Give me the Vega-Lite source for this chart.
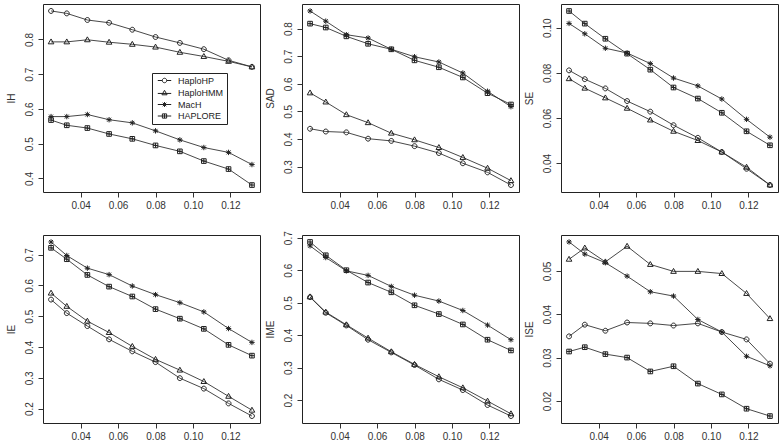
{
  "$schema": "https://vega.github.io/schema/vega-lite/v6.json",
  "padding": {"left": 5, "top": 3, "right": 0, "bottom": 0},
  "bounds": "flush",
  "columns": 3,
  "spacing": {"row": 43, "column": 42},
  "resolve": {"scale": {"shape": "independent"}, "legend": {"shape": "independent"}},
  "config": {
    "font": "Liberation Sans",
    "view": {"stroke": "#222", "strokeWidth": 1},
    "axis": {"grid": false, "domain": false, "ticks": true, "tickColor": "#333", "tickSize": 5, "tickCount": 12, "labelFont": "Liberation Sans", "labelFontSize": 10, "labelColor": "#333", "labelFlush": false, "labelOverlap": false, "titleFont": "Liberation Sans", "titleFontSize": 10, "titleFontWeight": "normal", "titleColor": "#333"},
    "axisY": {"labelAngle": 270, "labelAlign": "center", "labelBaseline": "bottom", "labelPadding": 4, "titlePadding": 8},
    "axisX": {"labelPadding": 3, "title": null}
  },
  "datasets": {
    "d": [
      {"x": 0.0242, "s": "HaploHP", "IH": 0.882, "SAD": 0.437, "SE": 0.0811, "IE": 0.554, "IME": 0.517, "ISE": 0.0349},
      {"x": 0.0326, "s": "HaploHP", "IH": 0.875, "SAD": 0.427, "SE": 0.0772, "IE": 0.510, "IME": 0.469, "ISE": 0.0376},
      {"x": 0.0436, "s": "HaploHP", "IH": 0.856, "SAD": 0.424, "SE": 0.0731, "IE": 0.468, "IME": 0.430, "ISE": 0.0362},
      {"x": 0.0552, "s": "HaploHP", "IH": 0.848, "SAD": 0.401, "SE": 0.0675, "IE": 0.425, "IME": 0.386, "ISE": 0.0381},
      {"x": 0.0676, "s": "HaploHP", "IH": 0.828, "SAD": 0.393, "SE": 0.0628, "IE": 0.386, "IME": 0.347, "ISE": 0.0379},
      {"x": 0.0800, "s": "HaploHP", "IH": 0.807, "SAD": 0.374, "SE": 0.0568, "IE": 0.351, "IME": 0.308, "ISE": 0.0374},
      {"x": 0.0930, "s": "HaploHP", "IH": 0.790, "SAD": 0.349, "SE": 0.0512, "IE": 0.299, "IME": 0.264, "ISE": 0.0379},
      {"x": 0.1058, "s": "HaploHP", "IH": 0.772, "SAD": 0.312, "SE": 0.0449, "IE": 0.265, "IME": 0.231, "ISE": 0.0359},
      {"x": 0.1190, "s": "HaploHP", "IH": 0.740, "SAD": 0.279, "SE": 0.0375, "IE": 0.217, "IME": 0.185, "ISE": 0.0342},
      {"x": 0.1315, "s": "HaploHP", "IH": 0.721, "SAD": 0.233, "SE": 0.0303, "IE": 0.176, "IME": 0.151, "ISE": 0.0286},
      {"x": 0.0242, "s": "HaploHMM", "IH": 0.793, "SAD": 0.567, "SE": 0.0774, "IE": 0.575, "IME": 0.518, "ISE": 0.0527},
      {"x": 0.0326, "s": "HaploHMM", "IH": 0.793, "SAD": 0.534, "SE": 0.0732, "IE": 0.532, "IME": 0.471, "ISE": 0.0553},
      {"x": 0.0436, "s": "HaploHMM", "IH": 0.799, "SAD": 0.488, "SE": 0.0689, "IE": 0.484, "IME": 0.432, "ISE": 0.0521},
      {"x": 0.0552, "s": "HaploHMM", "IH": 0.792, "SAD": 0.459, "SE": 0.0643, "IE": 0.447, "IME": 0.391, "ISE": 0.0557},
      {"x": 0.0676, "s": "HaploHMM", "IH": 0.786, "SAD": 0.421, "SE": 0.0591, "IE": 0.402, "IME": 0.349, "ISE": 0.0515},
      {"x": 0.0800, "s": "HaploHMM", "IH": 0.778, "SAD": 0.397, "SE": 0.0541, "IE": 0.360, "IME": 0.310, "ISE": 0.0499},
      {"x": 0.0930, "s": "HaploHMM", "IH": 0.763, "SAD": 0.369, "SE": 0.0500, "IE": 0.325, "IME": 0.272, "ISE": 0.0499},
      {"x": 0.1058, "s": "HaploHMM", "IH": 0.751, "SAD": 0.333, "SE": 0.0449, "IE": 0.288, "IME": 0.238, "ISE": 0.0494},
      {"x": 0.1190, "s": "HaploHMM", "IH": 0.737, "SAD": 0.294, "SE": 0.0382, "IE": 0.240, "IME": 0.197, "ISE": 0.0448},
      {"x": 0.1315, "s": "HaploHMM", "IH": 0.721, "SAD": 0.249, "SE": 0.0303, "IE": 0.195, "IME": 0.158, "ISE": 0.0390},
      {"x": 0.0242, "s": "MacH", "IH": 0.578, "SAD": 0.864, "SE": 0.1019, "IE": 0.741, "IME": 0.675, "ISE": 0.0567},
      {"x": 0.0326, "s": "MacH", "IH": 0.578, "SAD": 0.827, "SE": 0.0973, "IE": 0.697, "IME": 0.639, "ISE": 0.0539},
      {"x": 0.0436, "s": "MacH", "IH": 0.584, "SAD": 0.778, "SE": 0.0909, "IE": 0.656, "IME": 0.598, "ISE": 0.0519},
      {"x": 0.0552, "s": "MacH", "IH": 0.569, "SAD": 0.766, "SE": 0.0888, "IE": 0.635, "IME": 0.584, "ISE": 0.0488},
      {"x": 0.0676, "s": "MacH", "IH": 0.560, "SAD": 0.725, "SE": 0.0841, "IE": 0.598, "IME": 0.550, "ISE": 0.0452},
      {"x": 0.0800, "s": "MacH", "IH": 0.537, "SAD": 0.698, "SE": 0.0777, "IE": 0.570, "IME": 0.523, "ISE": 0.0442},
      {"x": 0.0930, "s": "MacH", "IH": 0.511, "SAD": 0.679, "SE": 0.0742, "IE": 0.544, "IME": 0.505, "ISE": 0.0388},
      {"x": 0.1058, "s": "MacH", "IH": 0.489, "SAD": 0.639, "SE": 0.0684, "IE": 0.514, "IME": 0.476, "ISE": 0.0359},
      {"x": 0.1190, "s": "MacH", "IH": 0.475, "SAD": 0.573, "SE": 0.0594, "IE": 0.460, "IME": 0.431, "ISE": 0.0303},
      {"x": 0.1315, "s": "MacH", "IH": 0.440, "SAD": 0.517, "SE": 0.0515, "IE": 0.415, "IME": 0.386, "ISE": 0.0281},
      {"x": 0.0242, "s": "HAPLORE", "IH": 0.568, "SAD": 0.818, "SE": 0.1074, "IE": 0.722, "IME": 0.687, "ISE": 0.0314},
      {"x": 0.0326, "s": "HAPLORE", "IH": 0.553, "SAD": 0.804, "SE": 0.1018, "IE": 0.685, "IME": 0.646, "ISE": 0.0324},
      {"x": 0.0436, "s": "HAPLORE", "IH": 0.545, "SAD": 0.772, "SE": 0.0951, "IE": 0.634, "IME": 0.600, "ISE": 0.0308},
      {"x": 0.0552, "s": "HAPLORE", "IH": 0.528, "SAD": 0.745, "SE": 0.0885, "IE": 0.596, "IME": 0.562, "ISE": 0.0300},
      {"x": 0.0676, "s": "HAPLORE", "IH": 0.514, "SAD": 0.725, "SE": 0.0814, "IE": 0.564, "IME": 0.532, "ISE": 0.0268},
      {"x": 0.0800, "s": "HAPLORE", "IH": 0.495, "SAD": 0.685, "SE": 0.0735, "IE": 0.523, "IME": 0.492, "ISE": 0.0280},
      {"x": 0.0930, "s": "HAPLORE", "IH": 0.478, "SAD": 0.660, "SE": 0.0686, "IE": 0.492, "IME": 0.465, "ISE": 0.0240},
      {"x": 0.1058, "s": "HAPLORE", "IH": 0.450, "SAD": 0.623, "SE": 0.0623, "IE": 0.459, "IME": 0.433, "ISE": 0.0215},
      {"x": 0.1190, "s": "HAPLORE", "IH": 0.427, "SAD": 0.566, "SE": 0.0541, "IE": 0.407, "IME": 0.386, "ISE": 0.0182},
      {"x": 0.1315, "s": "HAPLORE", "IH": 0.381, "SAD": 0.525, "SE": 0.0479, "IE": 0.372, "IME": 0.353, "ISE": 0.0165}
    ]
  },
  "concat": [
    {
      "width": 217, "height": 188,
      "data": {"name": "d"},
      "resolve": {"scale": {"shape": "independent"}, "legend": {"shape": "independent"}},
      "layer": [
        {"mark": {"type": "line", "color": "#333", "strokeWidth": 0.9},
         "encoding": {"x": {"field": "x", "type": "quantitative", "scale": {"domain": [0.0199, 0.1358], "nice": false, "zero": false}, "axis": {"values": [0.04, 0.06, 0.08, 0.10, 0.12], "format": ".2f", "tickCount": 12}},
                      "y": {"field": "IH", "type": "quantitative", "title": "IH", "scale": {"domain": [0.361, 0.902], "nice": false, "zero": false}, "axis": {"values": [0.4, 0.5, 0.6, 0.7, 0.8], "format": ".1f", "tickCount": 12}},
                      "detail": {"field": "s"}}},
        {"mark": {"type": "point", "filled": false, "stroke": "#222", "strokeWidth": 1, "size": 24, "opacity": 1},
         "encoding": {"x": {"field": "x", "type": "quantitative"},
                      "y": {"field": "IH", "type": "quantitative"},
                      "shape": {"field": "s", "type": "nominal", "legend": null,
                                "scale": {"domain": ["HaploHP", "HaploHMM", "MacH", "HAPLORE"], "range": ["M1,0A1,1,0,1,1,-1,0A1,1,0,1,1,1,0Z", "M0,-1.2L1.15,0.8L-1.15,0.8Z", "M-1.1,0L1.1,0M0,-1.1L0,1.1M-0.8,-0.8L0.8,0.8M-0.8,0.8L0.8,-0.8", "M-0.95,-0.95L0.95,-0.95L0.95,0.95L-0.95,0.95ZM-0.95,0L0.95,0M0,-0.95L0,0.95"]}}}},
        {"mark": {"type": "point", "filled": false, "stroke": "#222", "strokeWidth": 1, "size": 20, "opacity": 0},
         "encoding": {"x": {"field": "x", "type": "quantitative"},
                      "y": {"field": "IH", "type": "quantitative"},
                      "shape": {"field": "s", "type": "nominal",
                                "scale": {"domain": ["HaploHP", "HaploHMM", "MacH", "HAPLORE"], "range": ["M-3,0L-1,0M1,0L3,0M1,0A1,1,0,1,1,-1,0A1,1,0,1,1,1,0Z", "M-3,0.2L3,0.2M0,-1.2L1.15,0.8L-1.15,0.8Z", "M-3,0L3,0M0,-1.1L0,1.1M-0.8,-0.8L0.8,0.8M-0.8,0.8L0.8,-0.8", "M-3,0L3,0M-0.95,-0.95L0.95,-0.95L0.95,0.95L-0.95,0.95ZM0,-0.95L0,0.95"]},
                                "legend": {"orient": "none", "legendX": 109, "legendY": 69, "title": null, "strokeColor": "#222", "fillColor": "white", "padding": 3, "labelFont": "Liberation Sans", "labelFontSize": 9, "labelColor": "#222", "symbolSize": 20, "symbolOpacity": 1, "symbolStrokeColor": "#222", "symbolFillColor": "transparent", "symbolStrokeWidth": 1, "rowPadding": 1.5, "symbolOffset": 5, "labelOffset": 9}}}}
      ]
    },
    {
      "width": 217, "height": 188,
      "data": {"name": "d"},
      "layer": [
        {"mark": {"type": "line", "color": "#333", "strokeWidth": 0.9},
         "encoding": {"x": {"field": "x", "type": "quantitative", "scale": {"domain": [0.0199, 0.1358], "nice": false, "zero": false}, "axis": {"values": [0.04, 0.06, 0.08, 0.10, 0.12], "format": ".2f", "tickCount": 12}},
                      "y": {"field": "SAD", "type": "quantitative", "title": "SAD", "scale": {"domain": [0.2078, 0.8892], "nice": false, "zero": false}, "axis": {"values": [0.3, 0.4, 0.5, 0.6, 0.7, 0.8], "format": ".1f", "tickCount": 12}},
                      "detail": {"field": "s"}}},
        {"mark": {"type": "point", "filled": false, "stroke": "#222", "strokeWidth": 1, "size": 24, "opacity": 1},
         "encoding": {"x": {"field": "x", "type": "quantitative"},
                      "y": {"field": "SAD", "type": "quantitative"},
                      "shape": {"field": "s", "type": "nominal", "legend": null,
                                "scale": {"domain": ["HaploHP", "HaploHMM", "MacH", "HAPLORE"], "range": ["M1,0A1,1,0,1,1,-1,0A1,1,0,1,1,1,0Z", "M0,-1.2L1.15,0.8L-1.15,0.8Z", "M-1.1,0L1.1,0M0,-1.1L0,1.1M-0.8,-0.8L0.8,0.8M-0.8,0.8L0.8,-0.8", "M-0.95,-0.95L0.95,-0.95L0.95,0.95L-0.95,0.95ZM-0.95,0L0.95,0M0,-0.95L0,0.95"]}}}}
      ]
    },
    {
      "width": 217, "height": 188,
      "data": {"name": "d"},
      "layer": [
        {"mark": {"type": "line", "color": "#333", "strokeWidth": 0.9},
         "encoding": {"x": {"field": "x", "type": "quantitative", "scale": {"domain": [0.0199, 0.1358], "nice": false, "zero": false}, "axis": {"values": [0.04, 0.06, 0.08, 0.10, 0.12], "format": ".2f", "tickCount": 12}},
                      "y": {"field": "SE", "type": "quantitative", "title": "SE", "scale": {"domain": [0.0272, 0.1105], "nice": false, "zero": false}, "axis": {"values": [0.04, 0.06, 0.08, 0.10], "format": ".2f", "tickCount": 12}},
                      "detail": {"field": "s"}}},
        {"mark": {"type": "point", "filled": false, "stroke": "#222", "strokeWidth": 1, "size": 24, "opacity": 1},
         "encoding": {"x": {"field": "x", "type": "quantitative"},
                      "y": {"field": "SE", "type": "quantitative"},
                      "shape": {"field": "s", "type": "nominal", "legend": null,
                                "scale": {"domain": ["HaploHP", "HaploHMM", "MacH", "HAPLORE"], "range": ["M1,0A1,1,0,1,1,-1,0A1,1,0,1,1,1,0Z", "M0,-1.2L1.15,0.8L-1.15,0.8Z", "M-1.1,0L1.1,0M0,-1.1L0,1.1M-0.8,-0.8L0.8,0.8M-0.8,0.8L0.8,-0.8", "M-0.95,-0.95L0.95,-0.95L0.95,0.95L-0.95,0.95ZM-0.95,0L0.95,0M0,-0.95L0,0.95"]}}}}
      ]
    },
    {
      "width": 217, "height": 188,
      "data": {"name": "d"},
      "layer": [
        {"mark": {"type": "line", "color": "#333", "strokeWidth": 0.9},
         "encoding": {"x": {"field": "x", "type": "quantitative", "scale": {"domain": [0.0199, 0.1358], "nice": false, "zero": false}, "axis": {"values": [0.04, 0.06, 0.08, 0.10, 0.12], "format": ".2f", "tickCount": 12}},
                      "y": {"field": "IE", "type": "quantitative", "title": "IE", "scale": {"domain": [0.1534, 0.7636], "nice": false, "zero": false}, "axis": {"values": [0.2, 0.3, 0.4, 0.5, 0.6, 0.7], "format": ".1f", "tickCount": 12}},
                      "detail": {"field": "s"}}},
        {"mark": {"type": "point", "filled": false, "stroke": "#222", "strokeWidth": 1, "size": 24, "opacity": 1},
         "encoding": {"x": {"field": "x", "type": "quantitative"},
                      "y": {"field": "IE", "type": "quantitative"},
                      "shape": {"field": "s", "type": "nominal", "legend": null,
                                "scale": {"domain": ["HaploHP", "HaploHMM", "MacH", "HAPLORE"], "range": ["M1,0A1,1,0,1,1,-1,0A1,1,0,1,1,1,0Z", "M0,-1.2L1.15,0.8L-1.15,0.8Z", "M-1.1,0L1.1,0M0,-1.1L0,1.1M-0.8,-0.8L0.8,0.8M-0.8,0.8L0.8,-0.8", "M-0.95,-0.95L0.95,-0.95L0.95,0.95L-0.95,0.95ZM-0.95,0L0.95,0M0,-0.95L0,0.95"]}}}}
      ]
    },
    {
      "width": 217, "height": 188,
      "data": {"name": "d"},
      "layer": [
        {"mark": {"type": "line", "color": "#333", "strokeWidth": 0.9},
         "encoding": {"x": {"field": "x", "type": "quantitative", "scale": {"domain": [0.0199, 0.1358], "nice": false, "zero": false}, "axis": {"values": [0.04, 0.06, 0.08, 0.10, 0.12], "format": ".2f", "tickCount": 12}},
                      "y": {"field": "IME", "type": "quantitative", "title": "IME", "scale": {"domain": [0.1296, 0.7084], "nice": false, "zero": false}, "axis": {"values": [0.2, 0.3, 0.4, 0.5, 0.6, 0.7], "format": ".1f", "tickCount": 12}},
                      "detail": {"field": "s"}}},
        {"mark": {"type": "point", "filled": false, "stroke": "#222", "strokeWidth": 1, "size": 24, "opacity": 1},
         "encoding": {"x": {"field": "x", "type": "quantitative"},
                      "y": {"field": "IME", "type": "quantitative"},
                      "shape": {"field": "s", "type": "nominal", "legend": null,
                                "scale": {"domain": ["HaploHP", "HaploHMM", "MacH", "HAPLORE"], "range": ["M1,0A1,1,0,1,1,-1,0A1,1,0,1,1,1,0Z", "M0,-1.2L1.15,0.8L-1.15,0.8Z", "M-1.1,0L1.1,0M0,-1.1L0,1.1M-0.8,-0.8L0.8,0.8M-0.8,0.8L0.8,-0.8", "M-0.95,-0.95L0.95,-0.95L0.95,0.95L-0.95,0.95ZM-0.95,0L0.95,0M0,-0.95L0,0.95"]}}}}
      ]
    },
    {
      "width": 217, "height": 188,
      "data": {"name": "d"},
      "layer": [
        {"mark": {"type": "line", "color": "#333", "strokeWidth": 0.9},
         "encoding": {"x": {"field": "x", "type": "quantitative", "scale": {"domain": [0.0199, 0.1358], "nice": false, "zero": false}, "axis": {"values": [0.04, 0.06, 0.08, 0.10, 0.12], "format": ".2f", "tickCount": 12}},
                      "y": {"field": "ISE", "type": "quantitative", "title": "ISE", "scale": {"domain": [0.0149, 0.0583], "nice": false, "zero": false}, "axis": {"values": [0.02, 0.03, 0.04, 0.05], "format": ".2f", "tickCount": 12}},
                      "detail": {"field": "s"}}},
        {"mark": {"type": "point", "filled": false, "stroke": "#222", "strokeWidth": 1, "size": 24, "opacity": 1},
         "encoding": {"x": {"field": "x", "type": "quantitative"},
                      "y": {"field": "ISE", "type": "quantitative"},
                      "shape": {"field": "s", "type": "nominal", "legend": null,
                                "scale": {"domain": ["HaploHP", "HaploHMM", "MacH", "HAPLORE"], "range": ["M1,0A1,1,0,1,1,-1,0A1,1,0,1,1,1,0Z", "M0,-1.2L1.15,0.8L-1.15,0.8Z", "M-1.1,0L1.1,0M0,-1.1L0,1.1M-0.8,-0.8L0.8,0.8M-0.8,0.8L0.8,-0.8", "M-0.95,-0.95L0.95,-0.95L0.95,0.95L-0.95,0.95ZM-0.95,0L0.95,0M0,-0.95L0,0.95"]}}}}
      ]
    }
  ]
}
